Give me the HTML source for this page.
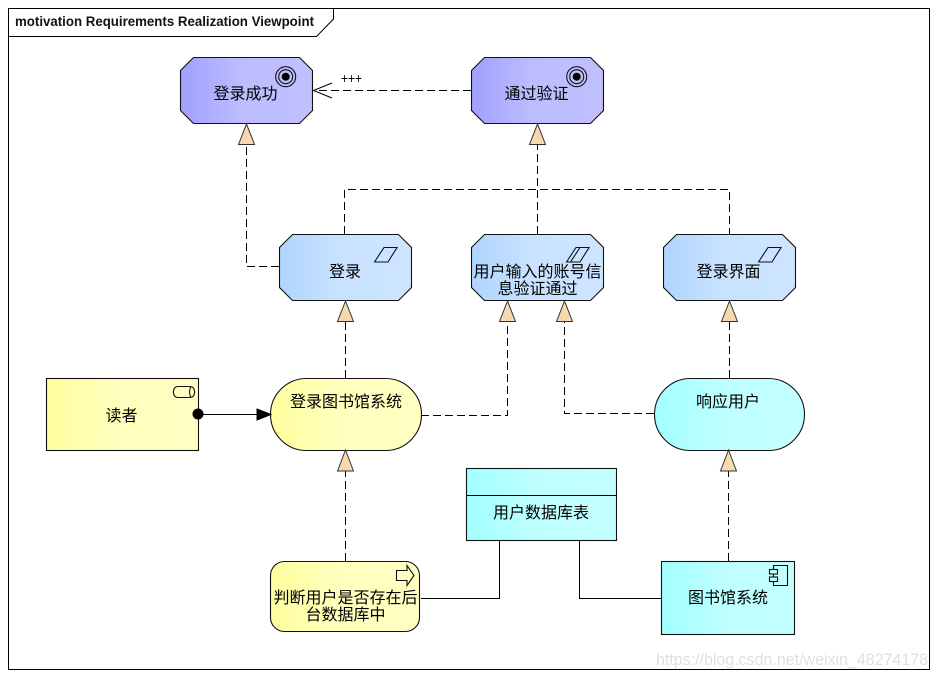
<!DOCTYPE html>
<html><head><meta charset="utf-8">
<style>
html,body{margin:0;padding:0;background:#fff}
svg{display:block}
.t{font-family:"Liberation Sans","WenQuanYi Zen Hei","Noto Sans CJK SC",sans-serif;font-size:16px;fill:#000;text-anchor:middle}
.s{stroke:#111;stroke-width:1.1;fill:none}
.d{stroke:#000;stroke-width:1;fill:none;stroke-dasharray:8 4;shape-rendering:crispEdges}
.l{stroke:#000;stroke-width:1;fill:none}
.h{fill:#f6d9ae;stroke:#333;stroke-width:1}
</style></head><body>
<svg width="937" height="677" viewBox="0 0 937 677" xmlns="http://www.w3.org/2000/svg">
<defs>
<linearGradient id="p"><stop offset="0" stop-color="#a0a0ff"/><stop offset=".45" stop-color="#bcbcff"/><stop offset="1" stop-color="#c0c0ff"/></linearGradient>
<linearGradient id="b"><stop offset="0" stop-color="#afd5ff"/><stop offset=".45" stop-color="#c8e2ff"/><stop offset="1" stop-color="#cde5ff"/></linearGradient>
<linearGradient id="y"><stop offset="0" stop-color="#ffff9f"/><stop offset=".45" stop-color="#ffffbd"/><stop offset="1" stop-color="#ffffc2"/></linearGradient>
<linearGradient id="c"><stop offset="0" stop-color="#a2ffff"/><stop offset=".45" stop-color="#bdffff"/><stop offset="1" stop-color="#c4ffff"/></linearGradient>
</defs>
<rect width="937" height="677" fill="#fff"/>
<rect x="8.5" y="8.5" width="921" height="661" fill="#fff" stroke="#000"/>
<path class="l" d="M8.5 36.5H316.5L333.5 19V8.5"/>
<text x="15" y="26" font-family="'Liberation Sans',sans-serif" font-weight="bold" font-size="13.5" textLength="299" lengthAdjust="spacingAndGlyphs" fill="#111">motivation Requirements Realization Viewpoint</text>

<!-- connectors -->
<path class="d" d="M471 90.5H316"/>
<path class="l" d="M332 83L313.5 90.5L332 98"/>
<text x="341" y="83" font-family="'Liberation Sans',sans-serif" font-size="14" textLength="21" lengthAdjust="spacingAndGlyphs" fill="#000">+++</text>
<path class="d" d="M279 266.5H246.5V144"/>
<path class="d" d="M537.5 234V144"/>
<path class="d" d="M344.5 234V189.5H729.5V234"/>
<path class="d" d="M345.5 378V321"/>
<path class="d" d="M421 415.5H507.5V321"/>
<path class="d" d="M654 413.5H564.5V321"/>
<path class="d" d="M729.5 378V321"/>
<path class="d" d="M345.5 561V470"/>
<path class="d" d="M728.5 561V471"/>
<path class="l" d="M198 414.5H258"/>
<path class="l" d="M421 598.5H499.5V540"/>
<path class="l" d="M579.5 540V598.5H661"/>

<!-- goals -->
<path d="M193.5 57.5H299.5L312.5 70.5V110.5L299.5 123.5H193.5L180.5 110.5V70.5Z" class="s" style="fill:url(#p)"/>
<circle class="s" cx="285.7" cy="76.7" r="10"/><circle class="s" cx="285.7" cy="76.7" r="7"/><circle cx="285.7" cy="76.7" r="4" fill="#000"/>
<text class="t" x="245.5" y="99">登录成功</text>
<path d="M484.5 57.5H590.5L603.5 70.5V110.5L590.5 123.5H484.5L471.5 110.5V70.5Z" class="s" style="fill:url(#p)"/>
<circle class="s" cx="576.7" cy="76.7" r="10"/><circle class="s" cx="576.7" cy="76.7" r="7"/><circle cx="576.7" cy="76.7" r="4" fill="#000"/>
<text class="t" x="536.5" y="99">通过验证</text>

<!-- blue requirement -->
<path d="M292.5 234.5H398.5L411.5 247.5V287.5L398.5 300.5H292.5L279.5 287.5V247.5Z" class="s" style="fill:url(#b)"/>
<path class="s" d="M374.5 262L384 247.5H397L388 262Z"/>
<text class="t" x="345" y="277">登录</text>
<path d="M484.5 234.5H590.5L603.5 247.5V287.5L590.5 300.5H484.5L471.5 287.5V247.5Z" class="s" style="fill:url(#b)"/>
<path class="s" d="M566.5 262L576 247.5H589L580 262ZM570.5 262L580 247.5"/>
<text class="t" x="537.5" y="277">用户输入的账号信</text>
<text class="t" x="537.5" y="294">息验证通过</text>
<path d="M676.5 234.5H782.5L795.5 247.5V287.5L782.5 300.5H676.5L663.5 287.5V247.5Z" class="s" style="fill:url(#b)"/>
<path class="s" d="M758.5 262L768 247.5H781L772 262Z"/>
<text class="t" x="728.5" y="277">登录界面</text>

<!-- actor -->
<rect x="46.5" y="378.5" width="152" height="72" class="s" style="fill:url(#y)"/>
<rect x="173.5" y="386.5" width="21" height="11" rx="4.5" class="s"/>
<path class="s" d="M191 386.5Q188 392 191 397.5"/>
<text class="t" x="121.5" y="421">读者</text>

<!-- processes -->
<rect x="270.5" y="378.5" width="151" height="72" rx="36" ry="36" class="s" style="fill:url(#y)"/>
<text class="t" x="346" y="407">登录图书馆系统</text>
<rect x="654.5" y="378.5" width="150" height="72" rx="36" ry="36" class="s" style="fill:url(#c)"/>
<text class="t" x="728" y="407">响应用户</text>

<!-- event -->
<rect x="270.5" y="561.5" width="149" height="70" rx="14" ry="14" class="s" style="fill:url(#y)"/>
<path class="s" d="M396.5 570.5H407V565.5L414 575.5L407 585.5V580.5H396.5Z"/>
<text class="t" x="345.5" y="603">判断用户是否存在后</text>
<text class="t" x="345.5" y="620">台数据库中</text>

<!-- table -->
<rect x="466.5" y="468.5" width="150" height="72" class="s" style="fill:url(#c)"/>
<path class="l" d="M466.5 495.5H616.5"/>
<text class="t" x="541" y="518">用户数据库表</text>

<!-- component -->
<rect x="661.5" y="561.5" width="133" height="73" class="s" style="fill:url(#c)"/>
<path class="s" d="M773.5 565.5H787.5V585.5H773.5Z"/>
<rect x="769.5" y="569.5" width="8" height="4.5" class="s" style="fill:#c0ffff"/>
<rect x="769.5" y="577" width="8" height="4.5" class="s" style="fill:#c0ffff"/>
<text class="t" x="728" y="603">图书馆系统</text>

<!-- arrowheads -->
<path class="h" d="M246.5 124L238.5 144.5H254.5Z"/>
<path class="h" d="M537.5 124L529.5 144.5H545.5Z"/>
<path class="h" d="M345.5 301L337.5 321.5H353.5Z"/>
<path class="h" d="M507.5 301L499.5 321.5H515.5Z"/>
<path class="h" d="M564.5 301L556.5 321.5H572.5Z"/>
<path class="h" d="M729.5 301L721.5 321.5H737.5Z"/>
<path class="h" d="M345.5 450L337.5 471H353.5Z"/>
<path class="h" d="M728.5 450L720.5 471H736.5Z"/>
<path d="M271 414.5L257 409V420Z" fill="#000" stroke="#000"/>
<circle cx="198" cy="414" r="5.5" fill="#000"/>

<text x="656" y="665" font-family="'Liberation Sans',sans-serif" font-size="17" textLength="272" lengthAdjust="spacingAndGlyphs" fill="#000" fill-opacity=".13">https://blog.csdn.net/weixin_48274178</text>
</svg>
</body></html>
